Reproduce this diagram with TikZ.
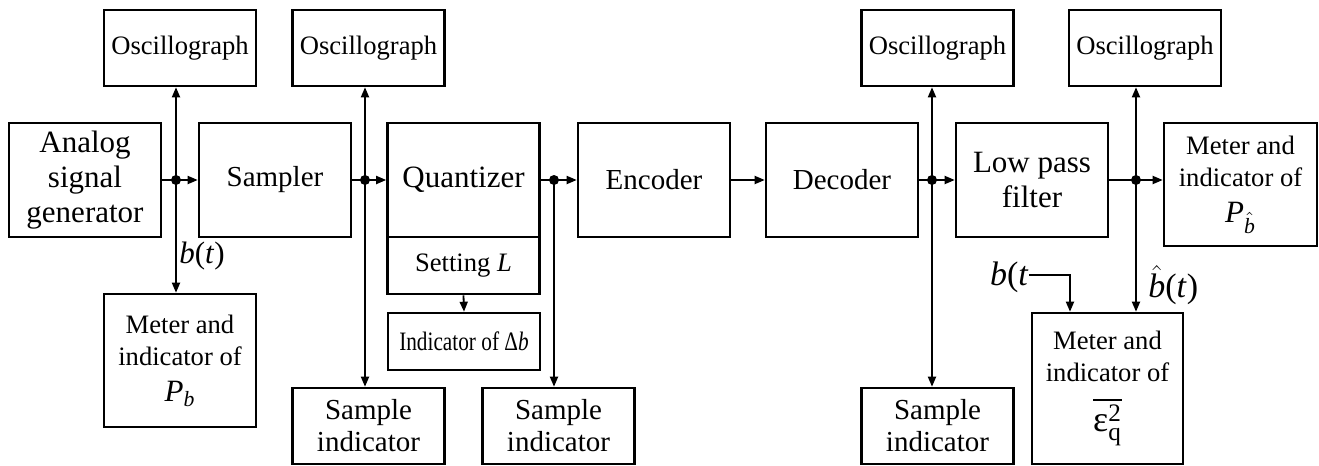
\documentclass[tikz,border=0pt]{standalone}
\usepackage{fontspec}
\usepackage{amsmath}
\setmainfont{Liberation Serif}
\usetikzlibrary{arrows.meta}

\newcommand\bigtxt{\fontsize{15.5}{17.5}\selectfont}
\newcommand\midtxt{\fontsize{14.5}{16}\selectfont}
\newcommand\smalltxt{\fontsize{13.3}{16}\selectfont}

\tikzset{
    blk/.style={draw, line width=1.3pt, align=center, inner sep=1pt},
    oscbox/.style={blk, font=\smalltxt, minimum width=76pt, minimum height=38pt},
    unit/.style={blk, font=\midtxt, minimum width=76pt, minimum height=57pt},
    link/.style={line width=0.9pt, -{Triangle[length=5pt,width=4pt]}},
    dot/.style={circle, fill, inner sep=0pt, minimum size=5pt},
    lbl/.style={inner sep=0pt, font=\bigtxt}
}

\begin{document}
\begin{tikzpicture}[x=0.5pt,y=-0.5pt]
    \useasboundingbox (0,0) rectangle (1319,466);

    % main chain
    \node[unit, font=\bigtxt] (gen) at (85,180) {Analog\\signal\\generator};
    \node[unit] (smp) at (275,180) {Sampler};
    \node[unit, font=\bigtxt] (qnt) at (463.5,180) {Quantizer};
    \node[unit] (enc) at (654,180) {Encoder};
    \node[unit] (dec) at (842,180) {Decoder};
    \node[unit, font=\bigtxt] (lpf) at (1032,180) {Low pass\\filter};

    % quantizer settings
    \node[blk, font=\smalltxt, minimum width=76pt, minimum height=28.5pt] (setL) at (463.5,265.5) {Setting \textit{L}};
    \node[blk, font=\smalltxt, minimum width=76pt, minimum height=28.5pt] (idb) at (464,341.5) {\scalebox{0.8}[1]{Indicator of Δ\textit{b}}};

    % oscillographs
    \node[oscbox] (osc1) at (180,48) {Oscillograph};
    \node[oscbox] (osc2) at (368.5,48) {Oscillograph};
    \node[oscbox] (osc3) at (937.5,48) {Oscillograph};
    \node[oscbox] (osc4) at (1145,48) {Oscillograph};

    % sample indicators
    \node[oscbox, font=\midtxt] (si1) at (368.5,426) {Sample\\indicator};
    \node[oscbox, font=\midtxt] (si2) at (558.5,426) {Sample\\indicator};
    \node[oscbox, font=\midtxt] (si3) at (937.5,426) {Sample\\indicator};

    % meters
    \node[blk, font=\smalltxt, minimum width=76pt, minimum height=66.5pt] (mPb) at (180,360.5)
        {Meter and\\indicator of\\[2pt]{\bigtxt$\textit{P}_{\textit{b}}$}};
    \node[blk, font=\smalltxt, minimum width=76.5pt, minimum height=61.5pt] (mPh) at (1240.5,184.5)
        {Meter and\\indicator of\\[2pt]{\bigtxt$\textit{P}_{\lower3pt\hbox{$\scriptstyle\hat{\textit{b}}$}}$}};
    \node[blk, font=\smalltxt, minimum width=75.5pt, minimum height=75.5pt] (mEq) at (1107.5,388.5)
        {Meter and\\indicator of\\[7pt]{\fontsize{18}{20}\selectfont$\overline{\text{ε}^{\text{2}}_{\text{q}}}$}};

    % junctions
    \coordinate (j1) at (176,180);
    \coordinate (j2) at (365,180);
    \coordinate (j3) at (554,180);
    \coordinate (j4) at (932,180);
    \coordinate (j5) at (1136,180);
    \coordinate (bend) at (1070,275);

    \draw[link] (gen.east) -- (smp.west);
    \draw[link] (smp.east) -- (qnt.west);
    \draw[link] (qnt.east) -- (enc.west);
    \draw[link] (enc.east) -- (dec.west);
    \draw[link] (dec.east) -- (lpf.west);
    \draw[link] (lpf.east |- j5) -- (mPh.west |- j5);

    \draw[link] (j1) -- (j1 |- osc1.south);
    \draw[link] (j1) -- (j1 |- mPb.north);
    \draw[link] (j2) -- (j2 |- osc2.south);
    \draw[link] (j2) -- (j2 |- si1.north);
    \draw[link] (j3) -- (j3 |- si2.north);
    \draw[link] (j4) -- (j4 |- osc3.south);
    \draw[link] (j4) -- (j4 |- si3.north);
    \draw[link] (j5) -- (j5 |- osc4.south);
    \draw[link] (j5) -- (j5 |- mEq.north);
    \draw[link] (setL.south) -- (idb.north);

    \foreach \j in {j1,j2,j3,j4,j5}
        \node[dot] at (\j) {};

    % signal labels
    \node[lbl, anchor=west] (bt) at (179,256) {\textit{b}(\textit{t})};
    \node[lbl, anchor=east, font=\fontsize{17}{19}\selectfont] (bt2) at (1029,277) {\textit{b}(\textit{t}};
    \node[lbl, anchor=west, font=\fontsize{17}{19}\selectfont] (bh) at (1148,285) {$\hat{\textit{b}}$(\textit{t})};
    \draw[link] (bt2.east |- bend) -- (bend) -- (bend |- mEq.north);
\end{tikzpicture}
\end{document}
